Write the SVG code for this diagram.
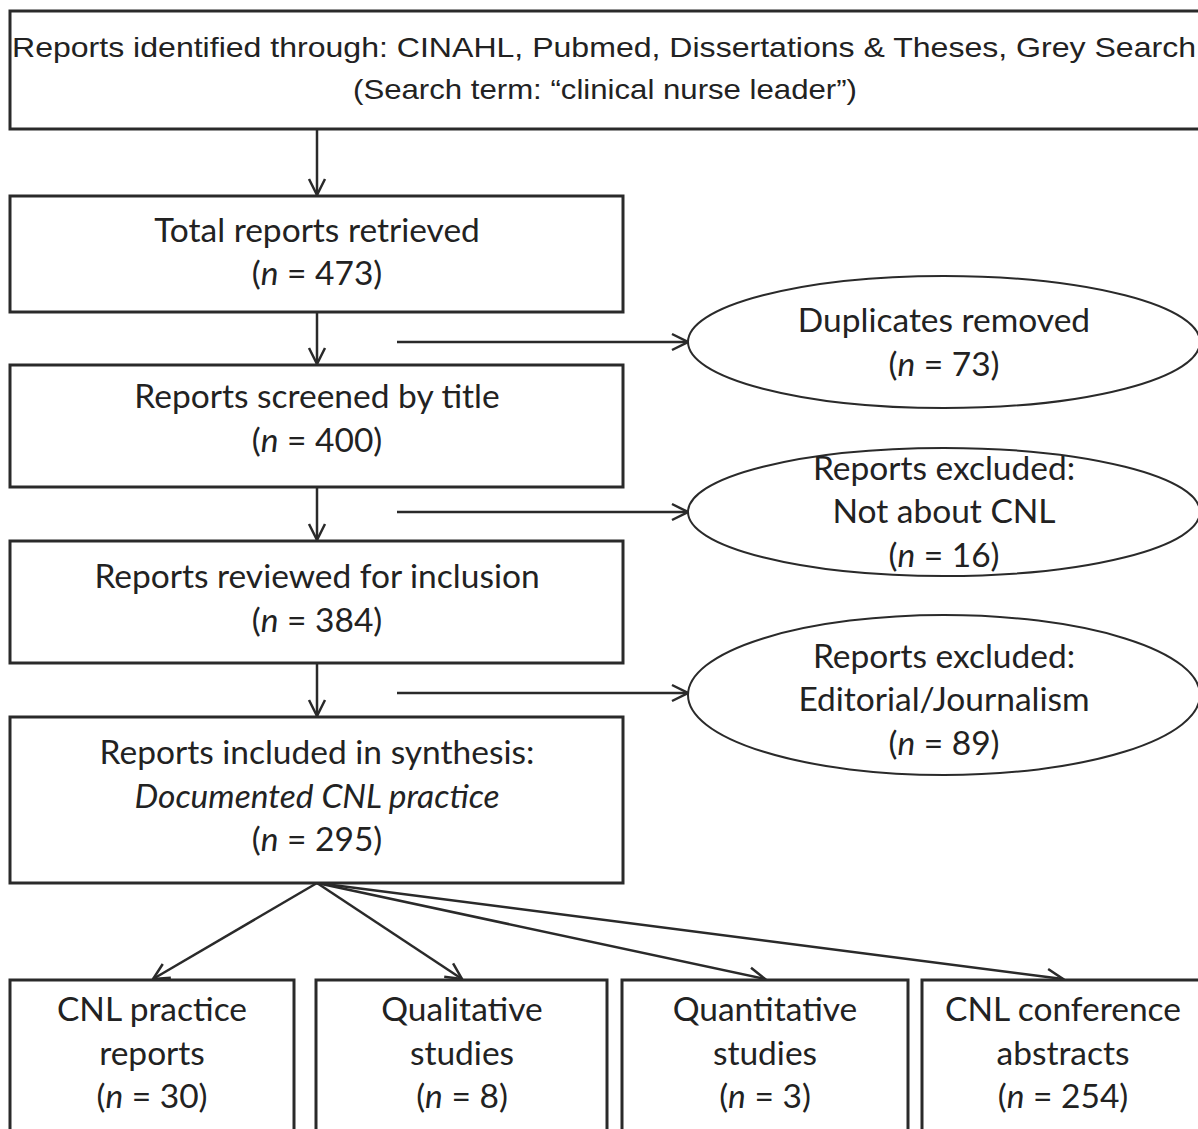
<svg xmlns="http://www.w3.org/2000/svg" width="1198" height="1129" viewBox="0 0 1198 1129">
<style>
.box{fill:#fff;stroke:#2a2a2a;stroke-width:3}
.ell{fill:#fff;stroke:#2a2a2a;stroke-width:2}
.t{font-family:Lato,"Open Sans",sans-serif;font-size:33.5px;fill:#222;text-anchor:middle}
.a{font-family:"Liberation Sans",Arial,sans-serif;font-size:28px;fill:#222;text-anchor:middle}
.c{stroke:#2a2a2a;stroke-width:2.5;fill:none}
</style>
<defs>
<marker id="ah" viewBox="0 0 20 20" refX="18" refY="10" markerWidth="20" markerHeight="20" markerUnits="userSpaceOnUse" orient="auto">
<path d="M2,2 L18,10 L2,18" fill="none" stroke="#2a2a2a" stroke-width="2.5"/>
</marker>
</defs>
<rect width="1198" height="1129" fill="#fff"/>
<g id="connectors">
<line class="c" x1="317" y1="129" x2="317" y2="195" marker-end="url(#ah)"/>
<line class="c" x1="317" y1="312" x2="317" y2="364" marker-end="url(#ah)"/>
<line class="c" x1="317" y1="487" x2="317" y2="540" marker-end="url(#ah)"/>
<line class="c" x1="317" y1="663" x2="317" y2="716" marker-end="url(#ah)"/>
<line class="c" x1="397" y1="342" x2="688" y2="342" marker-end="url(#ah)"/>
<line class="c" x1="397" y1="512" x2="688" y2="512" marker-end="url(#ah)"/>
<line class="c" x1="397" y1="693" x2="688" y2="693" marker-end="url(#ah)"/>
<line class="c" x1="317" y1="883" x2="153" y2="979" marker-end="url(#ah)"/>
<line class="c" x1="317" y1="883" x2="462" y2="979" marker-end="url(#ah)"/>
<line class="c" x1="317" y1="883" x2="765" y2="979" marker-end="url(#ah)"/>
<line class="c" x1="317" y1="883" x2="1063" y2="979" marker-end="url(#ah)"/>
</g>
<g id="n_source">
<rect class="box" x="10" y="11" width="1200" height="118"/>
<text class="a" x="604" y="57" textLength="1184" lengthAdjust="spacingAndGlyphs">Reports identified through: CINAHL, Pubmed, Dissertations &amp; Theses, Grey Search</text>
<text class="a" x="605" y="99" textLength="504" lengthAdjust="spacingAndGlyphs">(Search term: “clinical nurse leader”)</text>
</g>
<g id="n_total">
<rect class="box" x="10" y="196" width="613" height="116"/>
<text class="t" x="317" y="242">Total reports retrieved</text>
<text class="t" x="317" y="285">(<tspan font-style="italic">n</tspan> = 473)</text>
</g>
<g id="n_dup">
<ellipse class="ell" cx="944" cy="342" rx="256" ry="66"/>
<text class="t" x="944" y="332">Duplicates removed</text>
<text class="t" x="944" y="376">(<tspan font-style="italic">n</tspan> = 73)</text>
</g>
<g id="n_screened">
<rect class="box" x="10" y="365" width="613" height="122"/>
<text class="t" x="317" y="408">Reports screened by title</text>
<text class="t" x="317" y="452">(<tspan font-style="italic">n</tspan> = 400)</text>
</g>
<g id="n_excl1">
<ellipse class="ell" cx="944" cy="512" rx="256" ry="64"/>
<text class="t" x="944" y="480">Reports excluded:</text>
<text class="t" x="944" y="523">Not about CNL</text>
<text class="t" x="944" y="567">(<tspan font-style="italic">n</tspan> = 16)</text>
</g>
<g id="n_reviewed">
<rect class="box" x="10" y="541" width="613" height="122"/>
<text class="t" x="317" y="588">Reports reviewed for inclusion</text>
<text class="t" x="317" y="632">(<tspan font-style="italic">n</tspan> = 384)</text>
</g>
<g id="n_excl2">
<ellipse class="ell" cx="944" cy="695" rx="256" ry="80"/>
<text class="t" x="944" y="668">Reports excluded:</text>
<text class="t" x="944" y="711">Editorial/Journalism</text>
<text class="t" x="944" y="755">(<tspan font-style="italic">n</tspan> = 89)</text>
</g>
<g id="n_included">
<rect class="box" x="10" y="717" width="613" height="166"/>
<text class="t" x="317" y="764">Reports included in synthesis:</text>
<text class="t" x="317" y="808" font-style="italic">Documented CNL practice</text>
<text class="t" x="317" y="851">(<tspan font-style="italic">n</tspan> = 295)</text>
</g>
<g id="n_practice">
<rect class="box" x="10" y="980" width="284" height="170"/>
<text class="t" x="152" y="1021">CNL practice</text>
<text class="t" x="152" y="1065">reports</text>
<text class="t" x="152" y="1108">(<tspan font-style="italic">n</tspan> = 30)</text>
</g>
<g id="n_qual">
<rect class="box" x="316" y="980" width="291" height="170"/>
<text class="t" x="462" y="1021">Qualitative</text>
<text class="t" x="462" y="1065">studies</text>
<text class="t" x="462" y="1108">(<tspan font-style="italic">n</tspan> = 8)</text>
</g>
<g id="n_quant">
<rect class="box" x="622" y="980" width="286" height="170"/>
<text class="t" x="765" y="1021">Quantitative</text>
<text class="t" x="765" y="1065">studies</text>
<text class="t" x="765" y="1108">(<tspan font-style="italic">n</tspan> = 3)</text>
</g>
<g id="n_conf">
<rect class="box" x="922" y="980" width="290" height="170"/>
<text class="t" x="1063" y="1021">CNL conference</text>
<text class="t" x="1063" y="1065">abstracts</text>
<text class="t" x="1063" y="1108">(<tspan font-style="italic">n</tspan> = 254)</text>
</g>
</svg>
